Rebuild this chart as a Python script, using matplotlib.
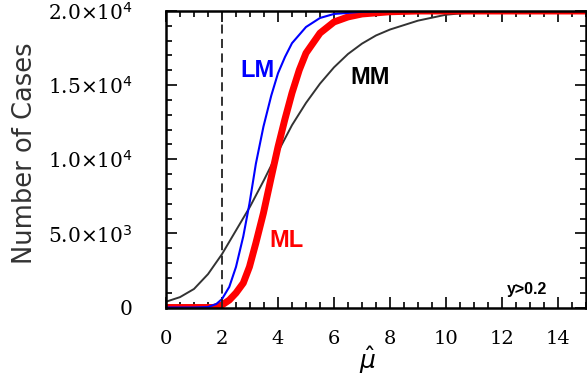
import numpy as np
import matplotlib
matplotlib.use('Agg')
import matplotlib.pyplot as plt
from matplotlib.ticker import MultipleLocator

# cumulative number of cases vs mu-hat
mm_x = [0, 0.5, 1, 1.5, 2, 2.5, 3, 3.5, 4, 4.5, 5, 5.5, 6, 6.5, 7, 7.5, 8, 9, 10, 11, 12, 13, 15]
mm_y = [390, 700, 1250, 2250, 3600, 5200, 6800, 8600, 10500, 12300, 13800, 15100, 16200,
        17100, 17800, 18350, 18750, 19350, 19750, 19920, 19980, 20000, 20000]

lm_x = [0, 1, 1.5, 1.8, 2, 2.26, 2.5, 2.76, 2.98, 3.21, 3.48, 3.76, 4, 4.25, 4.5, 5, 5.5, 6, 7, 8, 15]
lm_y = [0, 0, 30, 240, 570, 1390, 2740, 4800, 7000, 9700, 12200, 14300, 15800, 16900, 17830,
        18920, 19530, 19800, 19950, 20000, 20000]

ml_x = [0, 1.7, 2, 2.26, 2.5, 2.76, 2.98, 3.21, 3.48, 3.76, 4, 4.24, 4.5, 4.76, 5, 5.5, 6, 6.5, 7, 8, 9, 15]
ml_y = [0, 0, 170, 500, 980, 1650, 2740, 4350, 6370, 8800, 10830, 12650, 14470, 16020, 17160,
        18510, 19260, 19600, 19800, 19950, 20000, 20000]

y_ticks = [0, 5000, 10000, 15000, 20000]
y_labels = ['0', r'5.0$\times$10$^3$', r'1.0$\times$10$^4$', r'1.5$\times$10$^4$', r'2.0$\times$10$^4$']
x_ticks = [0, 2, 4, 6, 8, 10, 12, 14]

fig = plt.figure(figsize=(5.87, 3.81), dpi=100)
ax = fig.add_axes([166 / 587, (381 - 307.5) / 381, 420 / 587, 296.5 / 381])

ax.plot(mm_x, mm_y, color='#333333', lw=1.4)
ax.plot(ml_x, ml_y, color='red', lw=5, solid_capstyle='butt')
ax.plot(lm_x, lm_y, color='blue', lw=1.5)
ax.axvline(2, color='#222222', lw=1.3, ls=(0, (5, 3)))

lab = dict(fontsize=17, fontweight='bold', family='Liberation Sans', ha='center', va='center')
ax.text(3.25, 16000, 'LM', color='blue', **lab)
ax.text(4.3, 4500, 'ML', color='red', **lab)
ax.text(7.3, 15500, 'MM', color='black', **lab)
ax.text(12.9, 1200, 'y>0.2', color='black', fontsize=11.5, fontweight='bold',
        family='Liberation Sans', ha='center', va='center')

ax.set_xlim(0, 15)
ax.set_ylim(0, 20000)
ax.set_xticks(x_ticks)
ax.set_xticklabels([str(t) for t in x_ticks], family='DejaVu Serif', fontsize=14)
ax.set_yticks(y_ticks)
ax.set_yticklabels(y_labels, family='DejaVu Serif', fontsize=14.5)
ax.xaxis.set_minor_locator(MultipleLocator(0.5))
ax.yaxis.set_minor_locator(MultipleLocator(1000))
ax.tick_params(which='both', direction='in', top=True, right=True, width=1.2)
ax.tick_params(which='major', length=8)
ax.tick_params(axis='x', which='major', pad=16)
ax.tick_params(axis='y', which='major', pad=24)
ax.tick_params(which='minor', length=4)
for s in ax.spines.values():
    s.set_linewidth(1.8)

ax.set_ylabel('Number of Cases', fontsize=18.5, color='#333333', family='DejaVu Sans')
ax.yaxis.set_label_coords(-0.305, 0.52)
ax.set_xlabel(r'$\hat{\mu}$', fontsize=18)
ax.xaxis.set_label_coords(0.48, -0.125)

fig.savefig('out.png', dpi=100)
